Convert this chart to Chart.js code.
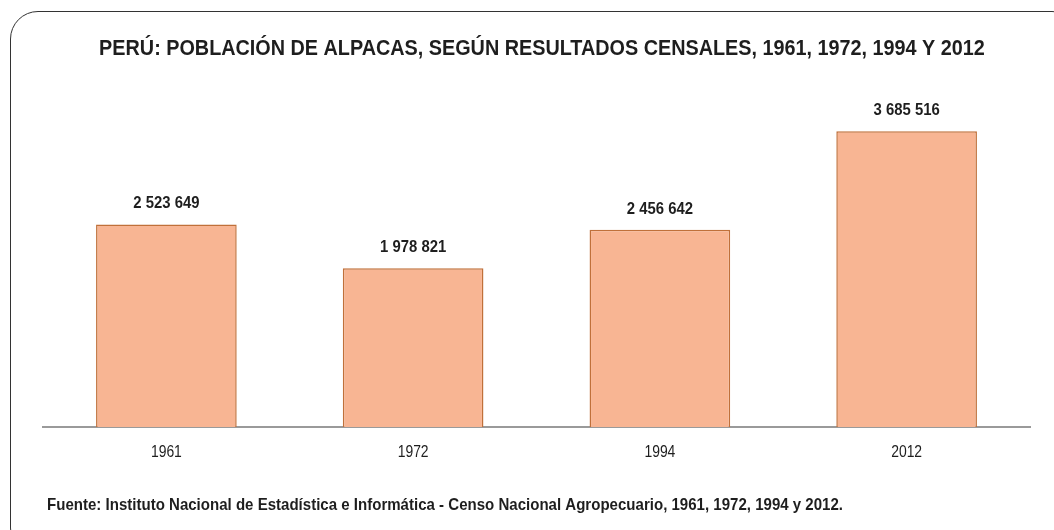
<!DOCTYPE html>
<html>
<head>
<meta charset="utf-8">
<script src="https://cdn.jsdelivr.net/npm/chart.js@4/dist/chart.umd.min.js"></script>
<style>
  html, body { margin: 0; padding: 0; background: #fff; overflow: hidden; }
  #wrap { position: relative; width: 1054px; height: 530px; }
  #frame {
    position: absolute; left: 10px; top: 11px; width: 1070px; height: 545px;
    border: 1.5px solid #333; border-radius: 28px; box-sizing: border-box;
  }
  canvas { position: absolute; left: 0; top: 0; }
</style>
</head>
<body>
<div id="wrap">
  <div id="frame"></div>
  <canvas id="chart" width="1054" height="530"></canvas>
</div>
<script>
const FONT = "'Liberation Sans', Arial, sans-serif";

const years = ["1961", "1972", "1994", "2012"];
const alpacas = [2523649, 1978821, 2456642, 3685516];
const titleText = "PERÚ: POBLACIÓN DE ALPACAS, SEGÚN RESULTADOS CENSALES, 1961, 1972, 1994 Y 2012";
const sourceText = "Fuente: Instituto Nacional de Estadística e Informática - Censo Nacional Agropecuario, 1961, 1972, 1994 y 2012.";

function fmt(n) {
  return n.toString().replace(/\B(?=(\d{3})+(?!\d))/g, " ");
}

// no narrow font installed, so squeeze the text horizontally
function narrowText(ctx, text, x, y, font, sx, align) {
  ctx.save();
  ctx.font = font;
  ctx.textAlign = align;
  ctx.textBaseline = "alphabetic";
  ctx.translate(x, y);
  ctx.scale(sx, 1);
  ctx.fillText(text, 0, 0);
  ctx.restore();
}

const textPlugin = {
  id: "texts",
  afterDatasetsDraw(chart) {
    const ctx = chart.ctx;
    ctx.save();
    ctx.fillStyle = "#1e1e1e";
    const meta = chart.getDatasetMeta(0);
    meta.data.forEach((bar, i) => {
      narrowText(ctx, fmt(alpacas[i]), bar.x, bar.y - 16, "bold 17px " + FONT, 0.875, "center");
    });
    const xs = chart.scales.x;
    years.forEach((y, i) => {
      narrowText(ctx, y, xs.getPixelForValue(i), 457, "16px " + FONT, 0.87, "center");
    });
    narrowText(ctx, titleText, 542, 55, "bold 22px " + FONT, 0.9, "center");
    narrowText(ctx, sourceText, 47, 510, "bold 17px " + FONT, 0.885, "left");
    ctx.restore();
  }
};

new Chart(document.getElementById("chart"), {
  type: "bar",
  data: {
    labels: years,
    datasets: [{
      data: alpacas,
      backgroundColor: "#F8B593",
      borderColor: "#C0703A",
      borderWidth: 1.5,
      barPercentage: 0.57,
      categoryPercentage: 1
    }]
  },
  options: {
    responsive: false,
    animation: false,
    layout: { padding: { left: 43, right: 24, top: 106, bottom: 0 } },
    plugins: {
      legend: { display: false },
      tooltip: { enabled: false }
    },
    scales: {
      x: {
        grid: { display: false, drawTicks: false },
        border: { display: true, color: "#9a9a9a", width: 2 },
        ticks: { display: false },
        afterFit: (s) => { s.height = 103; }
      },
      y: {
        display: false,
        min: 0,
        max: 4000000
      }
    }
  },
  plugins: [textPlugin]
});
</script>
</body>
</html>
